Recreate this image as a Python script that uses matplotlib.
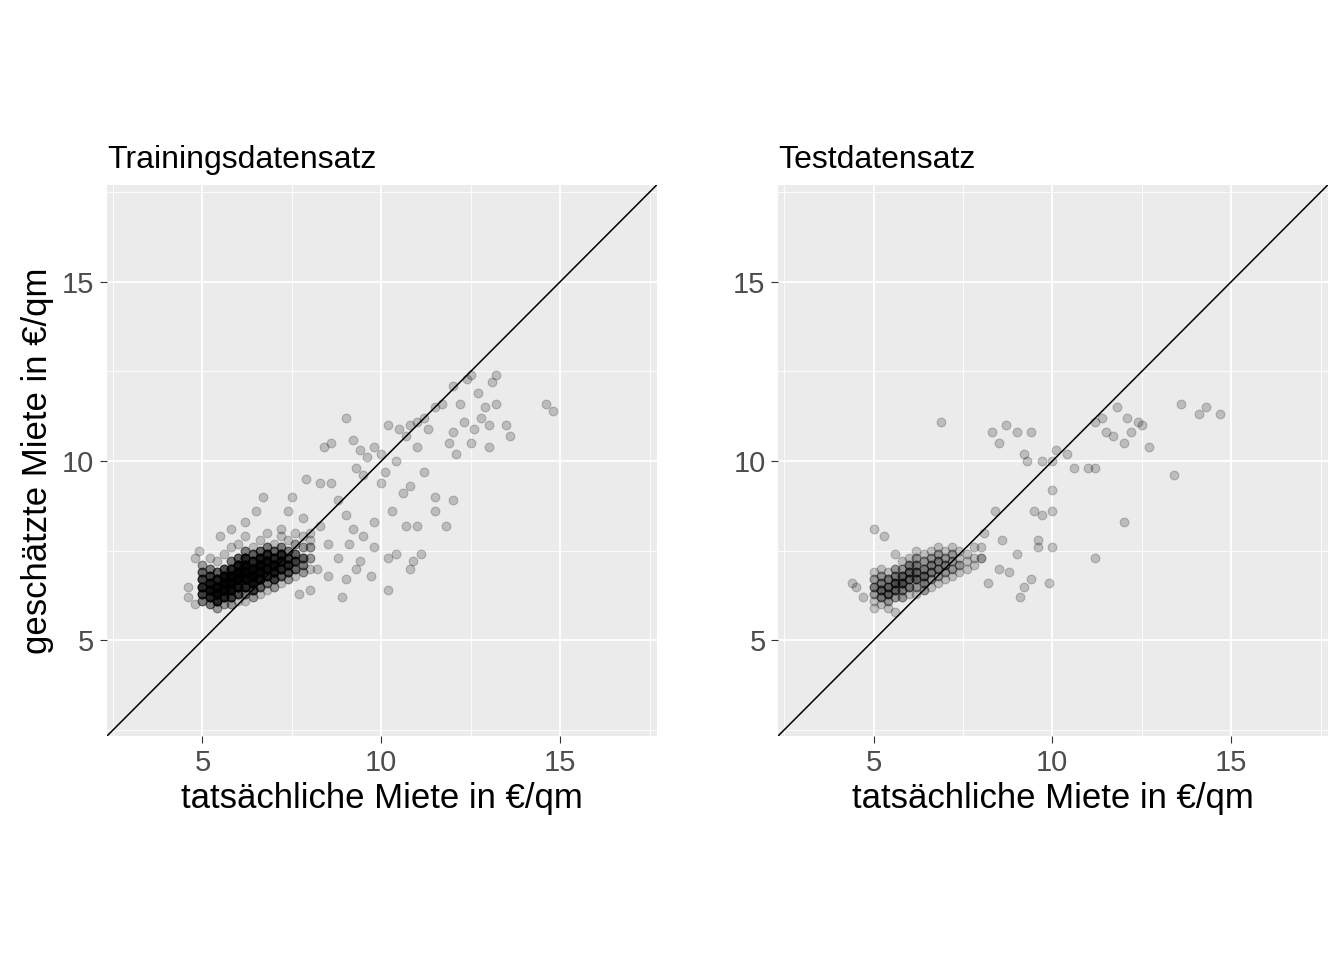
import numpy as np
import matplotlib
matplotlib.use("Agg")
from matplotlib import pyplot as plt

plt.rcParams['font.family'] = ['Liberation Sans', 'DejaVu Sans']

# sparse training points (actual, predicted)
train_x = [9.8,10,10.2,10.5,10.8,11,11.2,11.3,11.5,11.7,12,12.2,12.4,12.5,12.7,12.9,13.1,13.2,13,12.6,
           12.3,12,11.9,12.1,12.5,13.0,13.5,13.6,14.6,14.8,13.2,12.8,11.0,10.7,10.4,10.1,9.6,9.4,9.2,9.0,
           8.6,8.4,9.3,9.5,10.0,10.6,10.8,11.2,11.5,11.0,10.7,11.8,12.0,11.5,10.2,10.4,10.9,11.1,10.8,10.2,
           9.8,9.5,9.8,10.3,9.2,9.0,8.8,8.6,8.3,7.9,7.5,6.7,9.4,9.7,9.0,8.5,8.8,9.1,8.2,8.0,
           7.7,8.9,9.3,8.5,8.3,8.0,7.8,7.4,7.2,6.5,6.2,5.8,5.5,4.9,4.8,4.6,4.6,4.8]
train_y = [10.4,10.2,11,10.9,11,11.1,11.2,10.9,11.5,11.6,12.1,11.6,12.3,12.4,11.9,11.5,12.2,12.4,11.0,10.9,
           11.1,10.8,10.5,10.2,10.5,10.4,11.0,10.7,11.6,11.4,11.6,11.2,10.4,10.7,10.0,9.7,10.1,10.3,10.6,11.2,
           10.5,10.4,9.8,9.6,9.4,9.1,9.3,9.7,9.0,8.2,8.2,8.2,8.9,8.6,7.3,7.4,7.2,7.4,7.0,6.4,
           7.6,7.9,8.3,8.6,8.1,8.5,8.9,9.4,9.4,9.5,9.0,9.0,7.2,6.8,6.7,6.8,7.3,7.7,7.0,6.4,
           6.3,6.2,7.0,7.7,8.2,8.0,8.4,8.6,8.1,8.6,8.3,8.1,7.9,7.5,7.3,6.5,6.2,6.0]

# dense core: location and number of observations there
core_x = [5.0]*6 + [5.2]*7 + [5.4]*7 + [5.6]*7 + [5.8]*8 + [6.0]*8 + [6.2]*9 + [6.4]*8 + \
         [6.6]*8 + [6.8]*8 + [7.0]*7 + [7.2]*7 + [7.4]*6 + [7.6]*6 + [7.8]*5 + [8.0]*4
core_y = [6.1,6.3,6.5,6.7,6.9,7.1,
          6.0,6.2,6.4,6.6,6.8,7.0,7.3,
          5.9,6.1,6.3,6.5,6.7,6.9,7.2,
          6.0,6.2,6.4,6.6,6.8,7.0,7.4,
          6.0,6.2,6.4,6.6,6.8,7.0,7.2,7.6,
          6.1,6.3,6.5,6.7,6.9,7.1,7.3,7.7,
          6.1,6.3,6.5,6.7,6.9,7.1,7.3,7.5,7.9,
          6.2,6.4,6.6,6.8,7.0,7.2,7.4,7.6,
          6.3,6.5,6.7,6.9,7.1,7.3,7.5,7.8,
          6.4,6.6,6.8,7.0,7.2,7.4,7.6,8.0,
          6.5,6.7,6.9,7.1,7.3,7.5,7.7,
          6.6,6.8,7.0,7.2,7.4,7.6,7.9,
          6.7,6.9,7.1,7.3,7.5,7.8,
          6.8,7.0,7.2,7.4,7.7,8.0,
          6.9,7.1,7.3,7.6,7.9,
          7.0,7.3,7.6,7.8]
core_n = [3,6,8,6,4,2,
          3,8,12,10,6,3,1,
          2,8,14,14,9,4,1,
          2,8,14,16,12,5,1,
          2,6,12,16,14,8,3,1,
          1,5,10,16,16,10,4,1,
          1,3,8,14,16,14,8,3,1,
          2,6,12,16,14,8,4,1,
          1,4,10,14,14,10,4,1,
          1,3,8,12,12,8,3,1,
          2,6,10,12,8,4,1,
          1,4,8,10,8,3,1,
          2,5,8,6,3,1,
          1,4,6,4,2,1,
          2,3,4,2,1,
          1,2,2,1]

# sparse test points
test_x = [6.9,8.3,8.5,8.7,9.0,9.4,9.2,9.3,9.7,10.0,10.1,10.4,10.6,11.0,11.2,11.2,11.4,11.5,11.7,11.8,
          12.1,12.2,12.4,12.5,12.0,12.7,13.4,13.6,14.1,14.3,14.7,12.0,11.2,10.0,10.0,9.7,9.5,9.6,9.4,9.0,
          9.2,9.1,8.8,8.6,8.4,8.1,10.0,9.6,9.9,8.0,8.2,8.5,4.4,4.5,5.0,5.3,4.7,5.0,5.6]
test_y = [11.1,10.8,10.5,11.0,10.8,10.8,10.2,10.0,10.0,10.0,10.3,10.2,9.8,9.8,9.8,11.1,11.2,10.8,10.7,11.5,
          11.2,10.8,11.1,11.0,10.5,10.4,9.6,11.6,11.3,11.5,11.3,8.3,7.3,7.6,8.6,8.5,8.6,7.6,6.7,7.4,
          6.5,6.2,6.9,7.8,8.6,8.0,9.2,7.8,6.6,7.3,6.6,7.0,6.6,6.5,8.1,7.9,6.2,5.9,5.8]

# test core counts (same locations as core_x / core_y)
test_core_n = [1,2,3,2,1,0,
               1,3,4,3,2,1,0,
               1,2,4,4,3,1,0,
               0,2,4,5,3,2,1,
               0,2,3,5,4,2,1,0,
               0,1,3,4,4,3,1,0,
               0,1,2,4,4,3,2,1,0,
               0,2,3,4,3,2,1,0,
               0,1,2,3,3,2,1,0,
               0,1,2,3,3,2,1,0,
               0,1,2,3,2,1,0,
               0,1,2,2,2,1,0,
               0,1,2,1,1,0,
               0,1,1,1,0,0,
               0,1,1,1,0,
               0,1,1,0]

lim = (2.33, 17.7)
ticks = [5, 10, 15]

fig = plt.figure(figsize=(13.44, 9.6), dpi=100)
panels = [
    ("Trainingsdatensatz", 0.0796, train_x, train_y, core_n),
    ("Testdatensatz", 0.5789, test_x, test_y, test_core_n),
]
for i, (title, left, sx, sy, cn) in enumerate(panels):
    ax = fig.add_axes([left, 0.2333, 0.409, 0.574])
    ax.set_facecolor('#EBEBEB')
    ax.set_xlim(lim)
    ax.set_ylim(lim)
    ax.set_xticks(ticks)
    ax.set_yticks(ticks)
    ax.set_xticks([2.5, 7.5, 12.5, 17.5], minor=True)
    ax.set_yticks([2.5, 7.5, 12.5, 17.5], minor=True)
    ax.grid(True, which='major', color='white', lw=1.3)
    ax.grid(True, which='minor', color='white', lw=0.6)
    ax.set_axisbelow(True)
    for s in ax.spines.values():
        s.set_visible(False)
    ax.tick_params(which='major', length=5, color='#333333', labelsize=21,
                   labelcolor='#4D4D4D', pad=4)
    ax.tick_params(which='minor', length=0)
    px = np.concatenate([sx, np.repeat(core_x, cn)])
    py = np.concatenate([sy, np.repeat(core_y, cn)])
    ax.scatter(px, py, s=40, color='black', alpha=0.2, linewidths=0.8,
               edgecolors='black')
    ax.plot(lim, lim, color='black', lw=1.1)
    ax.set_title(title, loc='left', fontsize=23, pad=12)
    ax.set_xlabel("tatsächliche Miete in €/qm", fontsize=25, labelpad=4)
    if i == 0:
        ax.set_ylabel("geschätzte Miete in €/qm", fontsize=25, labelpad=6)

fig.savefig("out.png", dpi=100)
